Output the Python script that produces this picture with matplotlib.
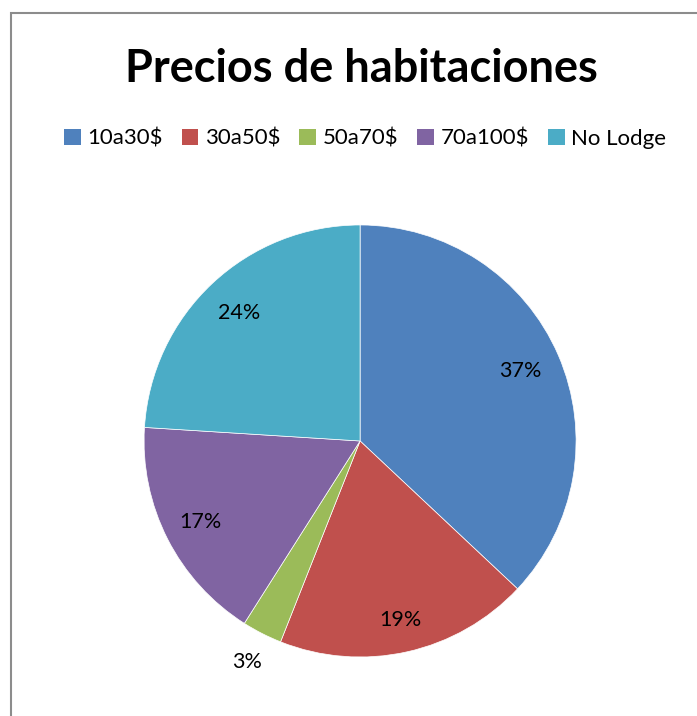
import numpy as np
import matplotlib
matplotlib.use("Agg")
import matplotlib.pyplot as plt
from matplotlib.patches import Rectangle, Patch

plt.rcParams['font.family'] = ['Lato', 'DejaVu Sans']

# data
categories = ["10a30$", "30a50$", "50a70$", "70a100$", "No Lodge"]
shares = [37, 19, 3, 17, 24]
colors = ["#4F81BD", "#C0504D", "#9BBB59", "#8064A2", "#4BACC6"]
label_dist = [0.81, 0.85, 1.15, 0.83, 0.815]

fig = plt.figure(figsize=(6.97, 7.16), dpi=100)

# chart border (only left/top visible in the crop)
fig.patches.append(Rectangle((11 / 697, -0.1), 1.2, 1 - 13 / 716 + 0.1,
                             transform=fig.transFigure, fill=False,
                             edgecolor="#8c8c8c", linewidth=1.5))

ax = fig.add_axes([0.2066, 0.0824, 0.62, 0.6034])
wedges, texts, autotexts = ax.pie(shares, colors=colors, startangle=90,
                                  counterclock=False, autopct="%d%%",
                                  wedgeprops=dict(linewidth=0.5, edgecolor="white"),
                                  textprops=dict(fontsize=15.5, color="black"))
ax.set_xlim(-1, 1)
ax.set_ylim(-1, 1)
ax.set_aspect("equal")

# move percent labels like excel's best fit
for w, t, d in zip(wedges, autotexts, label_dist):
    ang = np.deg2rad((w.theta1 + w.theta2) / 2)
    t.set_position((d * np.cos(ang), d * np.sin(ang)))

fig.text(0.519, 0.904, "Precios de habitaciones", ha="center", va="center",
         fontsize=32.5, fontweight="bold")

handles = [Patch(facecolor=c, edgecolor="none") for c in colors]
fig.legend(handles, categories, loc="center", bbox_to_anchor=(0.524, 0.806),
           ncol=5, frameon=False, fontsize=16, handlelength=0.75, handleheight=0.75,
           handletextpad=0.3, columnspacing=0.85)

fig.savefig("out.png", dpi=100)
